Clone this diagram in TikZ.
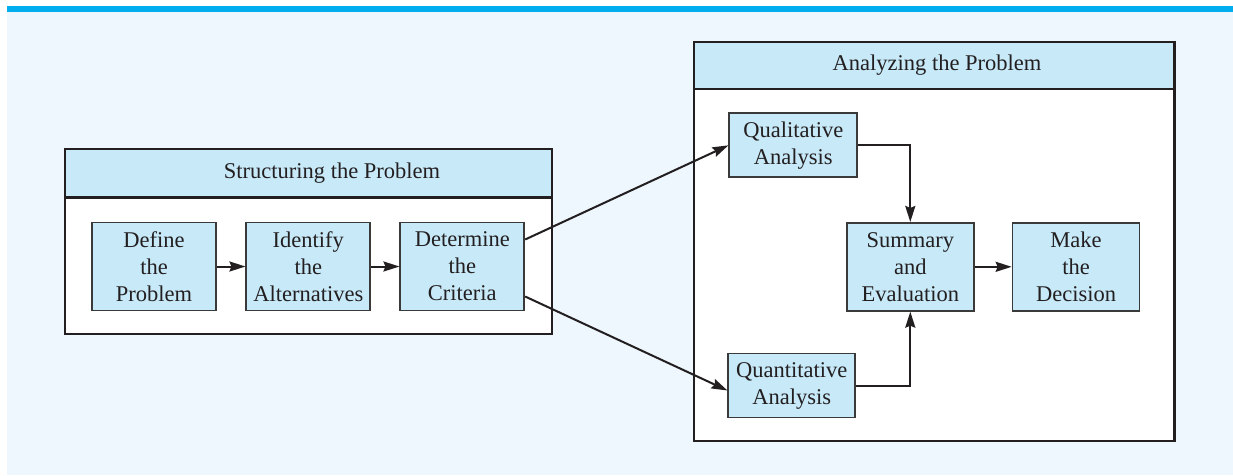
\documentclass[tikz,border=0pt]{standalone}
\usepackage{fontspec}
\setmainfont{Liberation Serif}
\usetikzlibrary{arrows.meta,calc}
\definecolor{bgblue}{HTML}{EEF7FE}
\definecolor{barblue}{HTML}{00AEEF}
\definecolor{boxblue}{HTML}{C7E9F8}
\definecolor{ink}{HTML}{231F20}
\definecolor{edge}{HTML}{3A3A3A}
\begin{document}
\begin{tikzpicture}[x=1pt,y=-1pt,
  stepbox/.style={draw=edge,line width=1.7pt,fill=boxblue,inner sep=0pt,align=center,
    text=ink,font=\fontsize{22.5}{27}\selectfont,minimum height=88pt,minimum width=124pt},
  smallbox/.style={stepbox,minimum height=64pt,minimum width=128pt},
  panel/.style={draw=ink,line width=2.4pt,fill=white},
  header/.style={draw=ink,line width=2.4pt,fill=boxblue},
  htext/.style={text=ink,font=\fontsize{22.5}{27}\selectfont,inner sep=0pt},
  conn/.style={draw=ink,line width=2pt,-{Stealth[length=16pt,width=10pt,inset=2pt]}}]
\useasboundingbox (0,0) rectangle (1233,475);
\fill[white] (0,0) rectangle (1233,475);
\fill[bgblue] (7,12) rectangle (1233,475);
\fill[barblue] (7,6) rectangle (1233,12);
% left panel
\draw[panel] (64.7,148.7) rectangle (551.7,334);
\draw[header] (64.7,148.7) rectangle (551.7,197.3);
\node[htext] (lhead) at (332,173) {Structuring the Problem};
% right panel
\draw[panel] (694,41.7) rectangle (1174.3,441);
\draw[header] (694,41.7) rectangle (1174.3,88.7);
\node[htext] (rhead) at (937,65) {Analyzing the Problem};
% nodes
\node[stepbox] (define) at (154,266.5) {Define\\the\\Problem};
\node[stepbox] (identify) at (308.3,266.5) {Identify\\the\\Alternatives};
\node[stepbox] (determine) at (462.3,266.5) {Determine\\the\\Criteria};
\node[smallbox] (qual) at (793.3,145.3) {Qualitative\\Analysis};
\node[smallbox,minimum width=127pt] (quant) at (791.8,385.5) {Quantitative\\Analysis};
\node[stepbox,minimum width=127pt] (summary) at (910.3,266.8) {Summary\\and\\Evaluation};
\node[stepbox,minimum width=127pt] (make) at (1076,266.8) {Make\\the\\Decision};
% connectors
\draw[conn] (define) -- (identify);
\draw[conn] (identify) -- (determine);
\draw[conn] (summary) -- (make);
\draw[conn] ($(determine.east)+(0,-27)$) -- (qual.west);
\draw[conn] ($(determine.east)+(0,30)$) -- ($(quant.west)+(0,5)$);
\draw[conn] (qual.east) -| (summary.north);
\draw[conn] (quant.east) -| (summary.south);
\end{tikzpicture}
\end{document}
